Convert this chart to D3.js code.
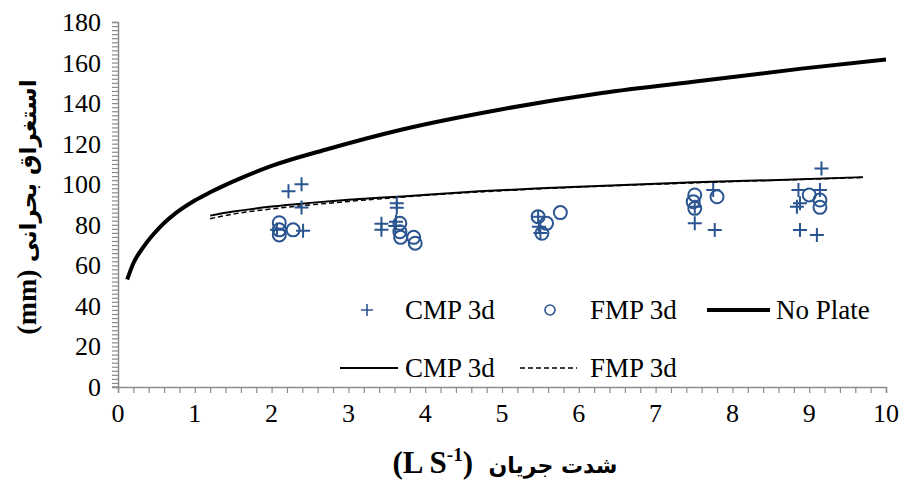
<!DOCTYPE html>
<html>
<head>
<meta charset="utf-8">
<script src="https://cdn.jsdelivr.net/npm/d3@7"></script>
<style>
  body { margin: 0; background: #fff; }
  svg { display: block; }
</style>
</head>
<body>
<div id="chart"></div>
<script>
// No Plate curve
const noPlateX = [0.12, 0.2, 0.33, 0.55, 0.76, 1, 1.2, 1.6, 2, 2.7, 3.7, 5, 6.3, 7.6, 8.9, 10];
const noPlateY = [53, 61, 69, 79, 86, 92, 96, 103, 109, 117, 127, 137, 145, 151, 157, 161.5];

// fitted lines
const cmpLineX = [1.2, 1.5, 2, 2.5, 3, 3.7, 4.7, 5.5, 6.5, 7.5, 8.5, 9.7];
const cmpLineY = [84.5, 86.5, 89, 90.8, 92.3, 94, 96.5, 98, 99.5, 101, 102, 103.5];
const fmpLineX = [1.2, 1.5, 2, 3, 4, 5, 6, 7, 8, 9, 9.7];
const fmpLineY = [83, 85.3, 87.8, 91.5, 94.5, 96.8, 98.6, 100, 101.3, 102.5, 103.3];

// measured points
const cmpX = [2.07, 2.22, 2.39, 2.39, 2.41, 3.43, 3.43, 3.63, 3.63, 3.62, 3.61, 5.47, 5.48, 5.5,
  7.51, 7.51, 7.77, 7.75, 9.16, 8.86, 9.14, 8.84, 8.88, 8.88, 9.1];
const cmpY = [77.5, 96.5, 100, 88.5, 77, 80.5, 77.5, 90.6, 88.4, 81.5, 79.4, 84, 79, 76,
  88.9, 80.7, 77.4, 97.1, 107.8, 97.1, 97.1, 88.9, 90.6, 77.4, 75];
const fmpX = [2.1, 2.1, 2.1, 2.28, 3.67, 3.67, 3.68, 3.85, 3.87, 5.47, 5.58, 5.52, 5.76,
  7.51, 7.49, 7.51, 7.8, 9.0, 9.14, 9.14];
const fmpY = [81, 77.5, 75, 77.5, 80.7, 76.6, 73.8, 73.8, 70.9, 84, 80.7, 75.8, 86,
  94.7, 91.4, 88.1, 93.8, 94.7, 92.2, 88.6];

const xTicks = [0, 1, 2, 3, 4, 5, 6, 7, 8, 9, 10];
const yTicks = [0, 20, 40, 60, 80, 100, 120, 140, 160, 180];

const width = 904, height = 482;
const blue = "#2B5591";
const axisGray = "#8c8c8c";
const serif = "'Liberation Serif', 'Times New Roman', serif";
const persian = "'DejaVu Sans', sans-serif";

const svg = d3.select("#chart").append("svg")
  .attr("width", width)
  .attr("height", height);

const x = d3.scaleLinear().domain([0, 10]).range([118, 886]);
const y = d3.scaleLinear().domain([0, 180]).range([387, 22]);

// axes with minor ticks
const xAxis = svg.append("g")
  .attr("transform", `translate(0,${y(0)})`)
  .call(d3.axisBottom(x).tickValues(d3.range(0, 10.001, 0.2)).tickSize(6).tickFormat(""));
const yAxis = svg.append("g")
  .attr("transform", `translate(${x(0)},0)`)
  .call(d3.axisLeft(y).tickValues(d3.range(0, 180.001, 2)).tickSize(6).tickFormat(""));

[xAxis, yAxis].forEach(g => {
  g.select(".domain").attr("stroke", axisGray).attr("stroke-width", 1.5);
  g.selectAll(".tick line").attr("stroke", axisGray).attr("stroke-width", 1.2);
});
// small overhang of the x axis to the left
svg.append("line")
  .attr("x1", x(0) - 6).attr("x2", x(0))
  .attr("y1", y(0)).attr("y2", y(0))
  .attr("stroke", axisGray).attr("stroke-width", 1.5);

// tick labels
svg.append("g").selectAll("text")
  .data(xTicks)
  .enter().append("text")
  .attr("x", d => x(d))
  .attr("y", 422)
  .attr("text-anchor", "middle")
  .attr("font-family", serif)
  .attr("font-size", 26)
  .text(d => d);

svg.append("g").selectAll("text")
  .data(yTicks)
  .enter().append("text")
  .attr("x", 101)
  .attr("y", d => y(d) + 9)
  .attr("text-anchor", "end")
  .attr("font-family", serif)
  .attr("font-size", 26)
  .text(d => d);

// axis titles
const xTitle = svg.append("text")
  .attr("x", 505)
  .attr("y", 473)
  .attr("text-anchor", "middle")
  .attr("font-weight", "bold");
xTitle.append("tspan").attr("font-family", serif).attr("font-size", 31).text("(L S");
xTitle.append("tspan").attr("font-family", serif).attr("font-size", 19).attr("dy", -12).text("-1");
xTitle.append("tspan").attr("font-family", serif).attr("font-size", 31).attr("dy", 12).text(")\u00A0 ");
xTitle.append("tspan").attr("font-family", persian).attr("font-size", 22).text("شدت جریان");

const yTitle = svg.append("text")
  .attr("transform", "translate(36,207) rotate(-90)")
  .attr("text-anchor", "middle")
  .attr("font-weight", "bold");
yTitle.append("tspan").attr("font-family", serif).attr("font-size", 28).text("(mm)\u00A0");
yTitle.append("tspan").attr("font-family", persian).attr("font-size", 23).text("استغراق بحرانی");

// lines
const toPts = (xs, ys) => xs.map((v, i) => [v, ys[i]]);
const line = d3.line().x(d => x(d[0])).y(d => y(d[1])).curve(d3.curveMonotoneX);

svg.append("path").datum(toPts(fmpLineX, fmpLineY))
  .attr("d", line).attr("fill", "none")
  .attr("stroke", "#000").attr("stroke-width", 1.5).attr("stroke-dasharray", "5,3");
svg.append("path").datum(toPts(cmpLineX, cmpLineY))
  .attr("d", line).attr("fill", "none")
  .attr("stroke", "#000").attr("stroke-width", 2);
svg.append("path").datum(toPts(noPlateX, noPlateY))
  .attr("d", line).attr("fill", "none")
  .attr("stroke", "#000").attr("stroke-width", 4);

// markers
const plus = s => `M${-s},0H${s}M0,${-s}V${s}`;

svg.append("g").selectAll("path")
  .data(toPts(cmpX, cmpY))
  .enter().append("path")
  .attr("transform", d => `translate(${x(d[0])},${y(d[1])})`)
  .attr("d", plus(7))
  .attr("stroke", blue).attr("stroke-width", 2).attr("fill", "none");

svg.append("g").selectAll("circle")
  .data(toPts(fmpX, fmpY))
  .enter().append("circle")
  .attr("cx", d => x(d[0]))
  .attr("cy", d => y(d[1]))
  .attr("r", 6.5)
  .attr("stroke", blue).attr("stroke-width", 2).attr("fill", "none");

// legend
const legend = svg.append("g").attr("font-family", serif).attr("font-size", 27);
const row1 = 310, row2 = 368;

legend.append("path").attr("transform", `translate(367,${row1})`)
  .attr("d", plus(6)).attr("stroke", blue).attr("stroke-width", 1.6);
legend.append("text").attr("x", 405).attr("y", row1 + 9).text("CMP 3d");

legend.append("circle").attr("cx", 550).attr("cy", row1).attr("r", 5)
  .attr("stroke", blue).attr("stroke-width", 1.6).attr("fill", "none");
legend.append("text").attr("x", 590).attr("y", row1 + 9).text("FMP 3d");

legend.append("line").attr("x1", 707).attr("x2", 770).attr("y1", row1).attr("y2", row1)
  .attr("stroke", "#000").attr("stroke-width", 4);
legend.append("text").attr("x", 776).attr("y", row1 + 9).text("No Plate");

legend.append("line").attr("x1", 340).attr("x2", 398).attr("y1", row2).attr("y2", row2)
  .attr("stroke", "#000").attr("stroke-width", 2);
legend.append("text").attr("x", 405).attr("y", row2 + 9).text("CMP 3d");

legend.append("line").attr("x1", 520).attr("x2", 577).attr("y1", row2).attr("y2", row2)
  .attr("stroke", "#000").attr("stroke-width", 1.5).attr("stroke-dasharray", "5,3");
legend.append("text").attr("x", 590).attr("y", row2 + 9).text("FMP 3d");
</script>
</body>
</html>
